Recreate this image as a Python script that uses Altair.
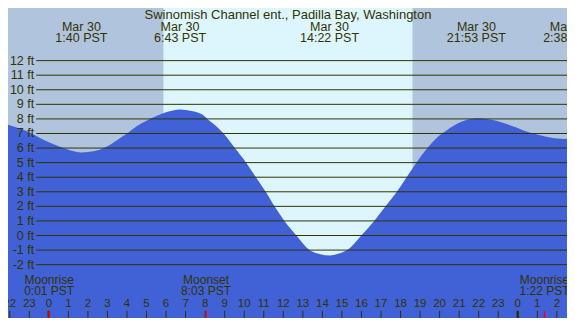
import altair as alt
import pandas as pd

# ---- data ----
tide_hours = [-2.09, -1.5, -1.0, -0.5, 0.0, 0.5, 1.0, 1.67, 2.3, 2.9, 3.5, 4.0, 4.5, 5.0, 5.5, 6.0,
              6.72, 7.3, 7.86, 8.11, 8.5, 8.94, 9.52, 10.1, 10.6, 11.1, 11.55, 12.06, 12.67, 13.34,
              13.9, 14.37, 14.9, 15.33, 15.99, 16.65, 17.23, 17.81, 18.31, 18.81, 19.31, 19.89,
              20.3, 20.8, 21.3, 21.88, 22.4, 22.9, 23.4, 23.9, 24.4, 24.9, 25.4, 25.9, 26.52]
tide_ft = [7.60, 7.35, 7.08, 6.72, 6.40, 6.12, 5.88, 5.70, 5.78, 6.05, 6.55, 7.00, 7.50, 7.88, 8.20, 8.45,
           8.65, 8.55, 8.30, 8.00, 7.58, 7.00, 6.00, 5.00, 4.00, 3.00, 2.00, 1.00, 0.00, -1.00,
           -1.28, -1.37, -1.22, -0.95, 0.00, 1.00, 2.00, 3.00, 4.00, 5.00, 5.90, 6.75,
           7.15, 7.60, 7.89, 8.04, 8.00, 7.88, 7.66, 7.42, 7.16, 6.96, 6.80, 6.68, 6.62]

grid_ft = list(range(-2, 13))
grid_labels = [f"{v} ft" for v in grid_ft]

night_start = [-2.09, 18.61]
night_end = [5.87, 26.52]
day_start = [5.87]
day_end = [18.61]

event_hours = [1.667, 6.717, 14.367, 21.883, 26.633]
event_dates = ["Mar 30", "Mar 30", "Mar 30", "Mar 30", "Mar 31"]
event_times = ["1:40 PST", "6:43 PST", "14:22 PST", "21:53 PST", "2:38 PST"]

moon_hours = [0.017, 8.05, 25.367]
moon_names = ["Moonrise", "Moonset", "Moonrise"]
moon_times = ["0:01 PST", "8:03 PST", "1:22 PST"]

hour_ticks = list(range(-2, 27))
hour_labels = [str(h % 24) for h in hour_ticks]
midnight_hours = [0, 24]

title_text = "Swinomish Channel ent., Padilla Bay, Washington"

# ---- layout ----
W, H = 559, 310
sx, sy = W / 575, H / 326
FONT = "Liberation Sans"
TXT = "#333300"
NIGHT = "#B0C4DE"
DAY = "#DDF6FE"
WATER = "#4161D6"
Y_LO, Y_HI = -5.66, 15.61

xs = alt.Scale(domain=[-2.09, 26.52], nice=False, zero=False)
ys = alt.Scale(domain=[Y_LO, Y_HI], nice=False, zero=False)

tide = pd.DataFrame({"h": tide_hours, "ft": tide_ft})
grid = pd.DataFrame({"ft": grid_ft, "lab": grid_labels})
night = pd.DataFrame({"a": night_start, "b": night_end})
day = pd.DataFrame({"a": day_start, "b": day_end})
events = pd.DataFrame({"h": event_hours, "d": event_dates, "t": event_times})
moon = pd.DataFrame({"h": moon_hours, "n": moon_names, "t": moon_times})
hours = pd.DataFrame({"h": hour_ticks, "lab": hour_labels})
mids = pd.DataFrame({"h": midnight_hours})

day_l = alt.Chart(day).mark_rect(color=DAY, clip=True).encode(
    x=alt.X("a:Q", scale=xs, axis=None), x2="b:Q", y=alt.value(0), y2=alt.value(H))
night_l = alt.Chart(night).mark_rect(color=NIGHT, clip=True).encode(
    x=alt.X("a:Q", scale=xs, axis=None), x2="b:Q", y=alt.value(0), y2=alt.value(H))

area_l = alt.Chart(tide).mark_area(color=WATER, interpolate="monotone", clip=True).encode(
    x=alt.X("h:Q", scale=xs, axis=None),
    y=alt.Y("ft:Q", scale=ys, axis=None),
    y2=alt.datum(Y_LO))

grid_l = alt.Chart(grid).mark_rule(color=TXT, strokeWidth=1).encode(
    y=alt.Y("ft:Q", scale=ys, axis=None), x=alt.value(29 * sx), x2=alt.value(W))
grid_t = alt.Chart(grid).mark_text(align="right", baseline="middle", font=FONT, fontSize=12.5,
                                   color=TXT).encode(
    y=alt.Y("ft:Q", scale=ys, axis=None), x=alt.value(27 * sx), text="lab:N")

title_l = alt.Chart(pd.DataFrame({"t": [title_text]})).mark_text(
    align="center", baseline="middle", font=FONT, fontSize=13, color=TXT).encode(
    x=alt.value(W / 2 + 0.5), y=alt.value(7.3 * sy), text="t:N")

ev_d = alt.Chart(events).mark_text(align="center", baseline="middle", font=FONT, fontSize=12.5,
                                   color=TXT, clip=True).encode(
    x=alt.X("h:Q", scale=xs, axis=None), y=alt.value(19.5 * sy), text="d:N")
ev_t = alt.Chart(events).mark_text(align="center", baseline="middle", font=FONT, fontSize=12.5,
                                   color=TXT, clip=True).encode(
    x=alt.X("h:Q", scale=xs, axis=None), y=alt.value(31.8 * sy), text="t:N")

mn_n = alt.Chart(moon).mark_text(align="center", baseline="middle", font=FONT, fontSize=12,
                                 color=TXT, clip=True).encode(
    x=alt.X("h:Q", scale=xs, axis=None), y=alt.value(286 * sy), text="n:N")
mn_t = alt.Chart(moon).mark_text(align="center", baseline="middle", font=FONT, fontSize=12,
                                 color=TXT, clip=True).encode(
    x=alt.X("h:Q", scale=xs, axis=None), y=alt.value(298 * sy), text="t:N")

hr_t = alt.Chart(hours).mark_text(align="center", baseline="middle", font=FONT, fontSize=11.5,
                                  color=TXT, clip=True).encode(
    x=alt.X("h:Q", scale=xs, axis=None), y=alt.value(311.5 * sy), text="lab:N")
hr_k = alt.Chart(hours).mark_rule(color=TXT, strokeWidth=1, clip=True).encode(
    x=alt.X("h:Q", scale=xs, axis=None), y=alt.value(318.5 * sy), y2=alt.value(H))
mid_k = alt.Chart(mids).mark_rule(color=TXT, strokeWidth=2.5, clip=True).encode(
    x=alt.X("h:Q", scale=xs, axis=None), y=alt.value(318.5 * sy), y2=alt.value(H))
moon_k = alt.Chart(moon).mark_rule(color="#FF0000", strokeWidth=1.5, clip=True).encode(
    x=alt.X("h:Q", scale=xs, axis=None), y=alt.value(318.5 * sy), y2=alt.value(H))

chart = alt.layer(
    day_l, night_l, area_l, grid_l, grid_t, title_l, ev_d, ev_t, mn_n, mn_t, hr_t, hr_k, mid_k, moon_k
).properties(
    width=W, height=H, padding=0, autosize=alt.AutoSizeParams(type="none")
).configure_view(stroke=None)

chart.save("out.html", embed_options={"renderer": "svg", "actions": False})
